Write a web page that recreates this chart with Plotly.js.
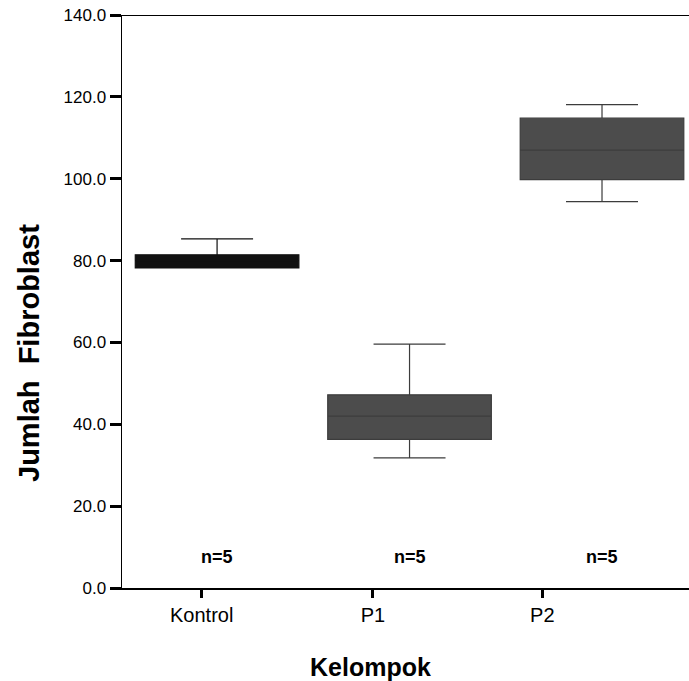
<!DOCTYPE html>
<html>
<head>
<meta charset="utf-8">
<script src="https://cdn.plot.ly/plotly-3.0.1.min.js"></script>
<style>html,body{margin:0;padding:0;background:#fff;}#chart{width:689px;height:681px;}</style>
</head>
<body>
<div id="chart"></div>
<script>
// Data (SPSS-style boxplot)
const groups = ["Kontrol", "P1", "P2"];
const lowerWhisker = [78.2, 31.8, 94.4];
const q1 = [78.2, 36.3, 99.8];
const median = [80.0, 42.0, 107.0];
const q3 = [81.4, 47.2, 114.8];
const upperWhisker = [85.3, 59.6, 118.1];
const nLabels = ["n=5", "n=5", "n=5"];
const yTickVals = [0, 20, 40, 60, 80, 100, 120, 140];
const yTickText = ["0.0", "20.0", "40.0", "60.0", "80.0", "100.0", "120.0", "140.0"];

const fills = ["#111111", "#4c4c4c", "#4c4c4c"];
const lines = ["#111111", "#3c3c3c", "#3c3c3c"];
const tickShift = [-0.08, -0.19, -0.31]; // scanned reference: tick marks sit left of the boxes

const traces = groups.map((g, i) => ({
  type: "box",
  name: g,
  x: [i],
  lowerfence: [lowerWhisker[i]],
  q1: [q1[i]],
  median: [median[i]],
  q3: [q3[i]],
  upperfence: [upperWhisker[i]],
  width: 0.85,
  whiskerwidth: 0.44,
  fillcolor: fills[i],
  line: {color: lines[i], width: 1.2},
  boxpoints: false,
  hoverinfo: "skip",
  showlegend: false
}));

const annotations = groups.map((g, i) => ({
  x: i, y: 7.6, xref: "x", yref: "y",
  text: nLabels[i], showarrow: false,
  font: {family: "Liberation Sans, Arial, sans-serif", size: 18, color: "#000", weight: 700}
}));

const layout = {
  width: 689, height: 681,
  margin: {l: 122, r: 0, t: 15, b: 93},
  paper_bgcolor: "#fff", plot_bgcolor: "#fff",
  showlegend: false,
  font: {family: "Liberation Sans, Arial, sans-serif", color: "#000"},
  xaxis: {
    type: "linear",
    range: [-0.494, 2.452],
    tickvals: groups.map((g, i) => i + tickShift[i]),
    ticktext: groups,
    ticks: "outside", ticklen: 8, tickwidth: 3, tickcolor: "#000",
    tickfont: {size: 20, color: "#000"},
    showline: true, linecolor: "#000", linewidth: 1.5,
    showgrid: false, zeroline: false
  },
  yaxis: {
    range: [0, 140],
    tickvals: yTickVals, ticktext: yTickText,
    ticks: "outside", ticklen: 11, tickwidth: 3, tickcolor: "#000",
    tickfont: {size: 17, color: "#000"},
    showline: true, linecolor: "#000", linewidth: 1.5,
    showgrid: false, zeroline: false
  },
  shapes: [{
    type: "line", xref: "paper", yref: "y", x0: 0, x1: 1, y0: 140, y1: 140,
    line: {color: "#000", width: 2}
  }],
  annotations: annotations.concat([
    {
      xref: "paper", yref: "paper",
      x: (29 - 122) / 567, y: (681 - 93 - 353) / 573,
      text: "Jumlah  Fibroblast", textangle: -90, showarrow: false,
      xanchor: "center", yanchor: "middle",
      font: {size: 29, color: "#000", weight: 700}
    },
    {
      xref: "paper", yref: "paper",
      x: (370 - 122) / 567, y: -(667 - 588) / 573,
      text: "Kelompok", showarrow: false,
      xanchor: "center", yanchor: "middle",
      font: {size: 25, color: "#000", weight: 700}
    }
  ])
};

Plotly.newPlot("chart", traces, layout, {displayModeBar: false, staticPlot: true});
</script>
</body>
</html>
